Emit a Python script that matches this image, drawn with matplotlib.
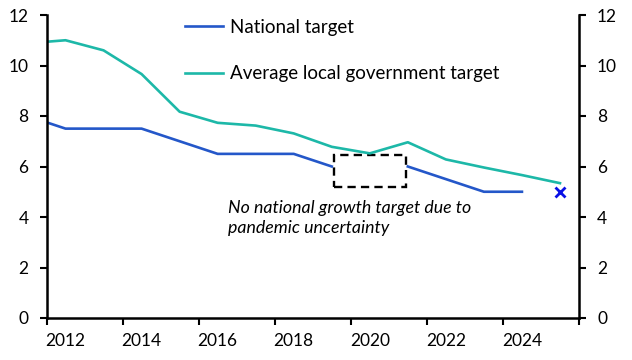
import matplotlib
matplotlib.use("Agg")
import matplotlib.pyplot as plt
import numpy as np
from matplotlib.patches import Rectangle

plt.rcParams['font.family'] = ['Lato', 'DejaVu Sans']

years = [2011, 2012, 2013, 2014, 2015, 2016, 2017, 2018, 2019, 2020, 2021, 2022, 2023, 2024, 2025]
national = [8.0, 7.5, 7.5, 7.5, 7.0, 6.5, 6.5, 6.5, 6.0, np.nan, 6.0, 5.5, 5.0, 5.0, np.nan]
local = [10.88, 11.0, 10.6, 9.66, 8.17, 7.73, 7.62, 7.31, 6.78, 6.52, 6.96, 6.28, 5.96, 5.66, 5.34]
target_2025_year = [2025]
target_2025 = [5.0]
gap_years = [2019.55, 2021.45]
gap_range = [5.2, 6.45]
xtick_years = [2012, 2014, 2016, 2018, 2020, 2022, 2024]
yticks = [0, 2, 4, 6, 8, 10, 12]

blue = '#2457c9'
teal = '#1db8a8'

fig = plt.figure(figsize=(6.32, 3.6), dpi=100)
ax = fig.add_axes([46.5/632, 42/360, (579-46.5)/632, (318-15)/360])

x = np.array(years) + 0.5
l1, = ax.plot(x, national, color=blue, lw=1.9, label='National target', clip_on=True)
l2, = ax.plot(x, local, color=teal, lw=1.9, label='Average local government target', clip_on=True)
ax.plot(np.array(target_2025_year) + 0.5, target_2025, marker='x', color='#0a10e6',
        ms=7.5, mew=2, ls='none', clip_on=False)

ax.add_patch(Rectangle((gap_years[0], gap_range[0]), gap_years[1]-gap_years[0],
                       gap_range[1]-gap_range[0], fill=False, ec='black', lw=1.7,
                       ls=(0, (3.5, 2.2))))
ax.text(2016.76, 4.68, 'No national growth target due to\npandemic uncertainty',
        style='italic', fontsize=12.8, va='top', ha='left', linespacing=1.35)

ax.set_xlim(2012, 2026)
ax.set_ylim(0, 12)
ax.set_xticks(np.arange(2012, 2027, 2))
ax.set_xticklabels([])
ax.set_xticks(np.array(xtick_years) + 0.5, minor=True)
ax.set_xticklabels([str(y) for y in xtick_years], minor=True)
ax.tick_params(axis='x', which='minor', length=0, pad=11, labelsize=12.5)
ax.tick_params(axis='x', which='major', length=5, width=1.5, direction='out')
ax.set_yticks(yticks)
ax.tick_params(axis='y', which='major', length=5, width=1.5, direction='out',
               labelsize=12.5, pad=8, left=True, right=True, labelleft=True, labelright=True)

for s in ['left', 'right', 'bottom']:
    ax.spines[s].set_linewidth(1.8)
ax.spines['top'].set_visible(False)

fig.legend(handles=[l1, l2], loc='upper left', bbox_to_anchor=(185/632, 1 - 19/360),
           frameon=False, fontsize=13.5, handlelength=2.0, handletextpad=0.38,
           labelspacing=1.55, borderpad=0, borderaxespad=0)

fig.savefig('out.png', dpi=100)
